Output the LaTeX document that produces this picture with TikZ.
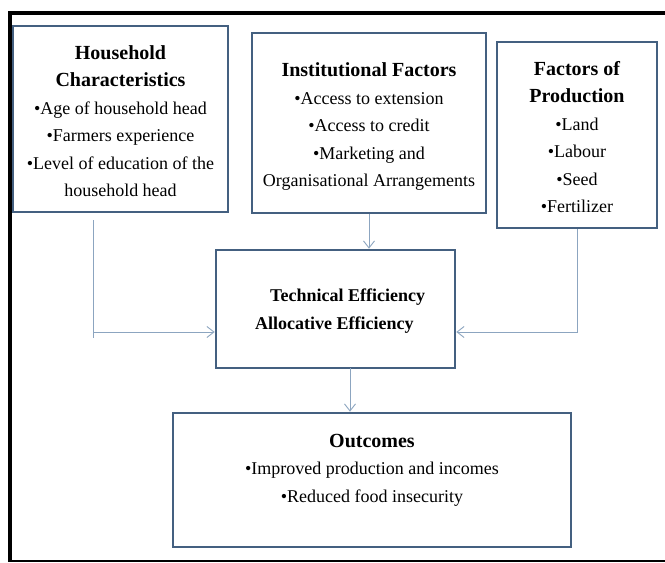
\documentclass[tikz,border=0pt]{standalone}
\usepackage{fontspec}
\setmainfont{Liberation Serif}
\usetikzlibrary{arrows.meta}
\definecolor{boxline}{RGB}{68,96,128}
\definecolor{connline}{RGB}{140,165,192}
\definecolor{baseline}{RGB}{110,110,110}
\newcommand{\hdfont}{\fontsize{20}{27.5}\selectfont\bfseries}
\newcommand{\itfont}{\fontsize{18}{27.5}\selectfont\mdseries}
\newcommand{\efffont}{\fontsize{18}{22}\selectfont\bfseries}
\tikzset{
  box/.style={draw=boxline, line width=2.7pt, fill=white, inner sep=0pt},
  boxtext/.style={align=center, inner sep=0pt, text=black, font=\itfont},
  conn/.style={draw=connline, line width=1pt},
  tip/.style={-{Straight Barb[length=7pt,width=11pt,line width=0.9pt]}},
  efftext/.style={anchor=west, inner sep=0pt, font=\efffont}
}
\begin{document}
\begin{tikzpicture}[x=1pt,y=-1pt]
  \useasboundingbox (0,0) rectangle (665,563);
  \fill[white] (0,0) rectangle (665,563);

  % frame around the figure
  \draw[black, line width=4pt] (665,12.5) -- (10,12.5) -- (10,561);
  \draw[baseline, line width=2pt] (8,561) -- (665,561);

  % boxes
  \node[box, minimum width=215pt, minimum height=186pt] (hh) at (120.5,119) {};
  \node[box, minimum width=234pt, minimum height=180pt] (inst) at (369,123) {};
  \node[box, minimum width=160pt, minimum height=186pt] (fp) at (577,135) {};
  \node[box, minimum width=239pt, minimum height=118pt] (mid) at (335.5,309) {};
  \node[box, minimum width=398pt, minimum height=134pt] (oc) at (372,480) {};

  % box texts
  \node[boxtext] (hhText) at (120.5,121)
    {\hdfont Household\\ \hdfont Characteristics\\
     •Age of household head\\ •Farmers experience\\
     •Level of education of the\\ household head};
  \node[boxtext] (instText) at (369,126.5)
    {\hdfont Institutional Factors\\
     •Access to extension\\ •Access to credit\\
     •Marketing and\\ Organisational Arrangements};
  \node[boxtext] (fpText) at (577,137)
    {\hdfont Factors of\\ \hdfont Production\\
     •Land\\ •Labour\\ •Seed\\ •Fertilizer};
  \node[efftext] (te) at (270,297) {Technical Efficiency};
  \node[efftext] (ae) at (255,325) {Allocative Efficiency};
  \node[boxtext] (ocText) at (372,470)
    {\hdfont Outcomes\\
     •Improved production and incomes\\ •Reduced food insecurity};

  % connectors
  \coordinate (hhOut) at (93,220);
  \coordinate (hhTail) at (93,338);
  \coordinate (join) at (93,332);
  \coordinate (midOut) at (350,368);

  \draw[conn] (hhOut) -- (hhTail);
  \draw[conn, tip] (join) -- (mid.west |- join);
  \draw[conn, tip] (fp.south) |- (mid.east |- join);
  \draw[conn, tip] (inst.south) -- (mid.north -| inst.south);
  \draw[conn, tip] (midOut) -- (oc.north -| midOut);
\end{tikzpicture}
\end{document}
